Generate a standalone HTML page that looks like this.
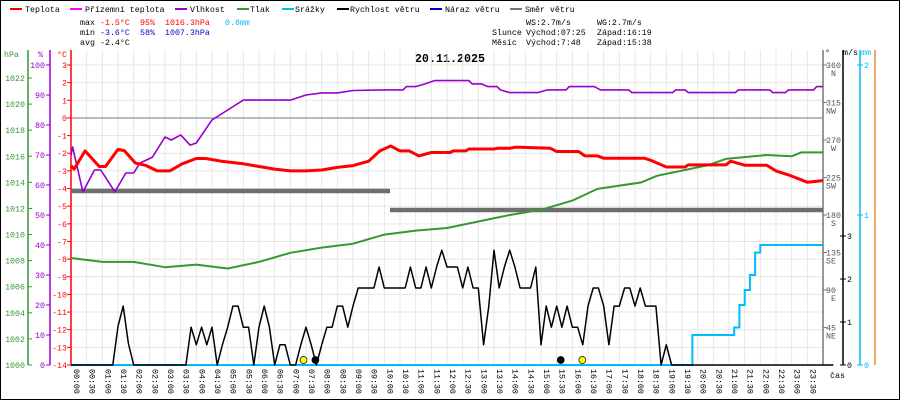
<!DOCTYPE html>
<html><head><meta charset="utf-8">
<style>
html,body{margin:0;padding:0;background:#fff;}
svg{display:block;font-family:"Liberation Mono","DejaVu Sans Mono",monospace;}
</style></head>
<body>
<svg id="chart" width="900" height="400" viewBox="0 0 900 400" xmlns="http://www.w3.org/2000/svg">
<rect x="0.5" y="0.5" width="899" height="399" fill="#fff" stroke="#000"/>
<g id="legend" font-size="8.3">
 <g><rect x="10" y="8" width="12" height="2" fill="#f00"/><text x="25" y="12">Teplota</text></g>
 <g><rect x="70" y="8" width="12" height="2" fill="#f0f"/><text x="85" y="12">Přízemní teplota</text></g>
 <g><rect x="175" y="8" width="12" height="2" fill="#90c"/><text x="190" y="12">Vlhkost</text></g>
 <g><rect x="237" y="8" width="12" height="2" fill="#393"/><text x="250" y="12">Tlak</text></g>
 <g><rect x="282" y="8" width="12" height="2" fill="#0bf"/><text x="295" y="12">Srážky</text></g>
 <g><rect x="337" y="8" width="12" height="2" fill="#000"/><text x="350" y="12">Rychlost větru</text></g>
 <g><rect x="430" y="8" width="12" height="2" fill="#00c"/><text x="445" y="12">Náraz větru</text></g>
 <g><rect x="510" y="8" width="12" height="2" fill="#777"/><text x="525" y="12">Směr větru</text></g>
</g>
<g id="stats" font-size="8.3">
 <text x="80" y="25">max</text><text x="100" y="25" fill="#f00">-1.5°C</text><text x="140" y="25" fill="#f00">95%</text><text x="165" y="25" fill="#f00">1016.3hPa</text><text x="225" y="25" fill="#0bf">0.8mm</text>
 <text x="80" y="35">min</text><text x="100" y="35" fill="#00c">-3.6°C</text><text x="140" y="35" fill="#00c">58%</text><text x="165" y="35" fill="#00c">1007.3hPa</text>
 <text x="80" y="45">avg</text><text x="100" y="45">-2.4°C</text>
 <text x="526" y="25">WS:2.7m/s</text><text x="597" y="25">WG:2.7m/s</text>
 <text x="492" y="35">Slunce</text><text x="526" y="35">Východ:07:25</text><text x="597" y="35">Západ:16:19</text>
 <text x="492" y="45">Měsíc</text><text x="526" y="45">Východ:7:48</text><text x="597" y="45">Západ:15:38</text>
</g>
<text x="450" y="62" text-anchor="middle" font-size="11.7" font-weight="bold">20.11.2025</text>
<g id="grid"></g>
<g id="axes"></g>
<g id="series"></g>
</svg>
<script>
// ---- data ----
const timeLabels = [];
for (let h = 0; h < 24; h++) { for (const m of ["00","30"]) timeLabels.push((h<10?"0":"")+h+":"+m); }
const tempTimes = [0,0.1,0.45,0.9,1.1,1.5,1.7,2.05,2.4,2.75,3.15,3.55,4.0,4.3,4.8,5.5,6.0,6.5,7.0,7.5,8.0,8.5,9.0,9.5,9.86,10.2,10.5,10.8,11.1,11.5,12.1,12.2,12.6,12.7,13.5,13.6,14.0,14.2,15.3,15.5,16.2,16.4,16.8,17.0,18.3,18.5,19.0,19.6,19.7,20.9,21.05,21.5,22.2,22.5,22.9,23.5,24];
const tempValues = [-2.7,-2.9,-1.87,-2.75,-2.75,-1.78,-1.85,-2.55,-2.7,-3.0,-3.0,-2.6,-2.3,-2.3,-2.45,-2.6,-2.75,-2.9,-3.0,-3.0,-2.95,-2.8,-2.7,-2.45,-1.87,-1.59,-1.87,-1.87,-2.15,-1.96,-1.96,-1.87,-1.87,-1.76,-1.76,-1.72,-1.72,-1.65,-1.72,-1.9,-1.9,-2.15,-2.15,-2.28,-2.28,-2.4,-2.78,-2.78,-2.66,-2.66,-2.45,-2.68,-2.68,-3.0,-3.23,-3.64,-3.55];
const humTimes = [0,0.05,0.38,0.75,0.95,1.4,1.75,2.0,2.2,2.6,3.0,3.2,3.5,3.8,4.0,4.5,5.0,5.5,6.0,6.5,7.0,7.5,8.0,8.5,9.0,9.9,10.6,10.7,11.0,11.3,11.6,12.7,12.8,13.1,13.3,13.6,13.7,14.0,14.9,15.2,15.8,15.9,16.7,16.9,17.8,17.9,19.2,19.3,19.6,19.7,21.2,21.3,21.8,22.3,22.4,22.8,22.9,23.7,23.8,24];
const humValues = [70,72.7,57.7,65,65,57.7,64,64,67.3,69.3,76,75,76.7,73.3,74,81.7,85,88.3,88.3,88.3,88.3,90,90.7,90.7,91.5,91.7,91.7,92.8,92.8,93.7,94.8,94.8,93.7,93.7,92.8,92.8,91.7,90.8,90.8,91.7,91.7,92.8,92.8,91.7,91.7,90.8,90.8,91.7,91.7,90.8,90.8,91.7,91.7,91.7,90.8,90.8,91.7,91.7,92.8,92.8];
const presTimes = [0,1,2,3,4,5,6,7,8,9,10,11,12,13,14,15,16,16.8,18.2,18.7,19.3,19.9,20.3,20.9,22.2,23.0,23.3,24];
const presValues = [1008.2,1007.9,1007.9,1007.5,1007.7,1007.4,1007.9,1008.6,1009.0,1009.3,1010.0,1010.3,1010.5,1011.0,1011.5,1011.9,1012.6,1013.5,1014.0,1014.5,1014.8,1015.1,1015.3,1015.8,1016.1,1016.0,1016.3,1016.3];
// wind speed, 10-minute steps
const windValues = [0,0,0,0,0,0,0,0,0,0.9,1.37,0.5,0,0,0,0,0,0,0,0,0,0,0,0.88,0.47,0.88,0.47,0.88,0,0.47,0.88,1.37,1.37,0.88,0.88,0,0.88,1.37,0.88,0,0.47,0.47,0,0,0.47,0.88,0.47,0,0.47,0.88,0.88,1.37,1.37,0.88,1.37,1.79,1.79,1.79,1.79,2.28,1.79,1.79,1.79,1.79,1.79,2.28,1.79,1.79,2.28,1.79,2.28,2.67,2.28,2.28,2.28,1.79,2.28,1.79,1.79,0.47,1.37,2.67,1.79,2.28,2.67,2.28,1.79,1.79,1.79,2.28,0.47,1.37,0.88,1.37,0.88,1.37,0.88,0.88,0.47,1.37,1.79,1.79,1.37,0.47,1.37,1.37,1.79,1.79,1.37,1.79,1.37,1.37,1.37,0,0.47,0,0,0,0,0,0,0,0,0,0,0,0,0,0,0,0,0,0,0,0,0,0,0,0,0,0,0,0,0,0,0,0];
// rain cumulative, 10-minute steps
const rainValues = [];
for (let i = 0; i <= 144; i++) rainValues.push(0);
const rainSteps = [[119,0.2],[127,0.25],[128,0.4],[129,0.5],[130,0.6],[131,0.75],[132,0.8]];
// wind direction segments
const dirTimes = [0, 10.18, 24];
const dirValues = [208.8, 186];
const sunEvents = [[7.42,"#ff0"],[16.32,"#ff0"]];
const moonEvents = [[7.8,"#000"],[15.63,"#000"]];
const hpaTicks = [1000,1002,1004,1006,1008,1010,1012,1014,1016,1018,1020,1022];
const humTicks = [0,10,20,30,40,50,60,70,80,90,100];
const tempTicks = [-14,-13,-12,-11,-10,-9,-8,-7,-6,-5,-4,-3,-2,-1,0,1,2,3];
const dirTicks = [[45,"NE"],[90,"E"],[135,"SE"],[180,"S"],[225,"SW"],[270,"W"],[315,"NW"],[360,"N"]];
const msTicks = [0,1,2,3];
const mmTicks = [0,1,2];
// ---- scales ----
const X0 = 71, X1 = 823, YB = 365;
const xT = t => X0 + t * (X1 - X0) / 24;
const yC = v => YB - (v + 14) * 300 / 17;
const yH = v => YB - v * 3;
const yP = v => YB - (v - 1000) * 13.045;
const yD = v => YB - v * 300 / 360;
const yW = v => YB - v * 43;
const yR = v => YB - v * 150;
const NS = "http://www.w3.org/2000/svg";
function mk(tag, attrs, parent) { const e = document.createElementNS(NS, tag); for (const k in attrs) e.setAttribute(k, attrs[k]); parent.appendChild(e); return e; }
const grid = document.getElementById("grid"), axes = document.getElementById("axes"), series = document.getElementById("series");
for (let i = 0; i <= 48; i++) {
  const x = X0 + i * (X1 - X0) / 48;
  const l = mk("line", {x1:x, x2:x, y1:50, y2:YB, stroke:"#e6e6e6", "stroke-width":1}, grid);
  
  
}
tempTicks.forEach(v => {
  const l = mk("line", {x1:X0, x2:X1, y1:yC(v), y2:yC(v), stroke: v===0 ? "#777" : "#e6e6e6", "stroke-width":1}, grid);
  
  
});
function axisLine(x, color, name) {
  const l = mk("line", {x1:x, x2:x, y1:50, y2:YB, stroke:color, "stroke-width":1.5}, axes);
  
  
}
axisLine(28, "#393", "hpa-axis"); axisLine(50, "#90c", "humidity-axis"); axisLine(71, "#f00", "temperature-axis");
axisLine(823, "#777", "direction-axis"); axisLine(843, "#000", "wind-speed-axis"); axisLine(860, "#0bf", "rain-axis"); axisLine(875, "#e83", "extra-axis");
function lbl(x, y, txt, color, anchor, name) {
  const t = mk("text", {x:x, y:y, fill:color, "font-size":8.3, "text-anchor":anchor}, axes);
  t.textContent = txt;
  
  
  return t;
}
lbl(4, 57, "hPa", "#393", "start", "hpa-axis-title");
lbl(38, 57, "%", "#90c", "start", "humidity-axis-title");
lbl(57, 57, "°C", "#f00", "start", "temperature-axis-title");
lbl(825, 55, "°", "#000", "start", "direction-axis-title");
lbl(843, 55, "m/s", "#000", "start", "wind-axis-title");
lbl(861, 55, "mm", "#0bf", "start", "rain-axis-title");
lbl(830, 378, "čas", "#000", "start", "x-axis-title");
hpaTicks.forEach(v => { const y = yP(v); mk("line",{x1:28,x2:32,y1:y,y2:y,stroke:"#393"},axes); lbl(25, y+3, String(v), "#393", "end", "hpa-tick-label"); });
humTicks.forEach(v => { const y = yH(v); mk("line",{x1:46,x2:50,y1:y,y2:y,stroke:"#90c"},axes); lbl(45, y+3, String(v), "#90c", "end", "humidity-tick-label"); });
tempTicks.forEach(v => { const y = yC(v); mk("line",{x1:67,x2:71,y1:y,y2:y,stroke:"#f00"},axes); lbl(67, y+3, String(v), "#f00", "end", "temperature-tick-label"); });
dirTicks.forEach(d => { const y = yD(d[0]); mk("line",{x1:823,x2:827,y1:y,y2:y,stroke:"#777"},axes); lbl(826, y+3, String(d[0]), "#555", "start", "direction-tick-label"); lbl(836, y+11, d[1], "#555", "end", "direction-compass-label"); });
msTicks.forEach(v => { const y = yW(v); mk("line",{x1:840,x2:846,y1:y,y2:y,stroke:"#000"},axes); lbl(847, y+3, String(v), "#000", "start", "wind-tick-label"); });
mmTicks.forEach(v => { const y = yR(v); mk("line",{x1:857,x2:863,y1:y,y2:y,stroke:"#0bf"},axes); lbl(864, y+3, String(v), "#0bf", "start", "rain-tick-label"); });
timeLabels.forEach((s, i) => {
  const x = X0 + i * (X1 - X0) / 48;
  const t = mk("text", {x:0, y:0, "font-size":8.3, transform:"translate("+(x+3)+",369) rotate(90)"}, axes);
  t.textContent = s;
  
  
});
function poly(times, vals, ys, color, w, name) {
  const pts = times.map((t, i) => xT(t).toFixed(1) + "," + ys(vals[i]).toFixed(1)).join(" ");
  const p = mk("polyline", {points:pts, fill:"none", stroke:color, "stroke-width":w, "stroke-linejoin":"round"}, series);
  
  
}
for (let i = 0; i < dirValues.length; i++) {
  const l = mk("line", {x1:xT(dirTimes[i]), x2:xT(dirTimes[i+1]), y1:yD(dirValues[i]), y2:yD(dirValues[i]), stroke:"#6e6e6e", "stroke-width":4.5}, series);
  
  
}
const tenMin = windValues.map((v, i) => i / 6);
poly(presTimes, presValues, yP, "#393", 2, "pressure-line");
poly(humTimes, humValues, yH, "#90c", 1.6, "humidity-line");
poly(tempTimes, tempValues, yC, "#f00", 3, "temperature-line");
rainSteps.forEach(s => { for (let i = s[0]; i < rainValues.length; i++) rainValues[i] = s[1]; });
(function(){
  let pts = [];
  rainValues.forEach((v, i) => { const x = xT(i/6); if (i>0) pts.push(x.toFixed(1)+","+yR(rainValues[i-1]).toFixed(1)); pts.push(x.toFixed(1)+","+yR(v).toFixed(1)); });
  const p = mk("polyline", {points:pts.join(" "), fill:"none", stroke:"#0bf", "stroke-width":2}, series);
  
  
})();
poly(tenMin, windValues, yW, "#000", 1.5, "wind-speed-line");
sunEvents.concat(moonEvents).forEach(e => {
  const c = mk("circle", {cx:xT(e[0]), cy:360, r:3.5, fill:e[1], stroke:"#000", "stroke-width":0.7}, series);
  
  
});
</script>
</body></html>
